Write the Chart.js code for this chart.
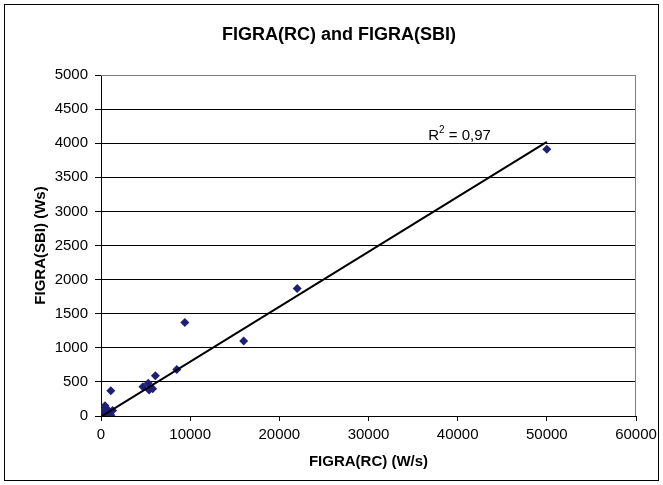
<!DOCTYPE html>
<html>
<head>
<meta charset="utf-8">
<script src="https://cdn.jsdelivr.net/npm/chart.js@4/dist/chart.umd.min.js"></script>
<style>
  html, body { margin: 0; padding: 0; background: #fff; }
  #wrap { width: 663px; height: 485px; }
</style>
</head>
<body>
<div id="wrap"><canvas id="figraChart" width="663" height="485"></canvas></div>
<script>
// ===============================
// Data
// ===============================
const figraRC = [0, 150, 300, 450, 600, 700, 900, 1100, 1300, 1100,
                 4700, 5300, 5400, 5800, 6100, 8500, 9400, 16000, 22000, 50000];
const figraSBI = [0, 40, 90, 150, 110, 30, 70, 10, 80, 370,
                  430, 480, 380, 400, 590, 680, 1370, 1100, 1870, 3910];

// trendline end points and its label
const trendX = [0, 50000];
const trendY = [-10, 4020];
const r2Text = "0,97";

const xTicks = [0, 10000, 20000, 30000, 40000, 50000, 60000];
const yTicks = [0, 500, 1000, 1500, 2000, 2500, 3000, 3500, 4000, 4500, 5000];

const FONT = "'Liberation Sans', Arial, sans-serif";

// ===============================
// Extra drawing: frame, title, plot border, R² label
// ===============================
const decorPlugin = {
    id: "decor",
    beforeDraw(chart) {
        const ctx = chart.ctx;
        ctx.save();
        ctx.fillStyle = "#fff";
        ctx.fillRect(0, 0, chart.width, chart.height);
        ctx.strokeStyle = "#000";
        ctx.lineWidth = 1;
        ctx.strokeRect(4.5, 4.5, 654, 476);
        ctx.fillStyle = "#000";
        ctx.font = "bold 18px " + FONT;
        ctx.textAlign = "center";
        ctx.textBaseline = "middle";
        ctx.fillText("FIGRA(RC) and FIGRA(SBI)", 339, 35);
        ctx.restore();
    },
    beforeDatasetsDraw(chart) {
        const a = chart.chartArea;
        const ctx = chart.ctx;
        ctx.save();
        ctx.strokeStyle = "#808080";
        ctx.lineWidth = 1;
        ctx.beginPath();
        ctx.moveTo(a.left, a.top + 0.5);
        ctx.lineTo(a.right - 0.5, a.top + 0.5);
        ctx.lineTo(a.right - 0.5, a.bottom);
        ctx.stroke();
        ctx.restore();
    },
    afterDraw(chart) {
        const ctx = chart.ctx;
        const x = chart.scales.x.getPixelForValue(36700);
        const y = chart.scales.y.getPixelForValue(4110);
        ctx.save();
        ctx.fillStyle = "#000";
        ctx.textBaseline = "middle";
        ctx.textAlign = "left";
        ctx.font = "15px " + FONT;
        ctx.fillText("R", x, y);
        let w = ctx.measureText("R").width;
        ctx.font = "10px " + FONT;
        ctx.fillText("2", x + w, y - 5);
        w += ctx.measureText("2").width;
        ctx.font = "15px " + FONT;
        ctx.fillText(" = " + r2Text, x + w, y);
        ctx.restore();
    }
};

const points = figraRC.map((v, i) => ({ x: v, y: figraSBI[i] }));
const trend = trendX.map((v, i) => ({ x: v, y: trendY[i] }));

new Chart(document.getElementById("figraChart"), {
    type: "scatter",
    data: {
        datasets: [
            {
                type: "line",
                label: "Trend",
                data: trend,
                borderColor: "#000",
                borderWidth: 2,
                pointRadius: 0,
                fill: false,
                order: 0
            },
            {
                label: "FIGRA",
                data: points,
                pointStyle: "rectRot",
                pointRadius: 4.5,
                backgroundColor: "#1f1f78",
                borderColor: "#1f1f78",
                borderWidth: 0,
                order: 1
            }
        ]
    },
    options: {
        responsive: false,
        devicePixelRatio: 1,
        animation: false,
        layout: { padding: { left: 0, top: 75, right: 27, bottom: 0 } },
        plugins: {
            legend: { display: false },
            title: { display: false },
            tooltip: { enabled: false }
        },
        scales: {
            x: {
                type: "linear",
                min: 0,
                max: 60000,
                afterFit(scale) { scale.height = 69; },
                afterBuildTicks(scale) { scale.ticks = xTicks.map(v => ({ value: v })); },
                border: { color: "#000", width: 1 },
                grid: { drawOnChartArea: false, tickColor: "#000", tickLength: 5 },
                ticks: {
                    color: "#000",
                    padding: 5,
                    maxRotation: 0,
                    font: { family: FONT, size: 15 },
                    callback: v => String(v)
                },
                title: {
                    display: true,
                    text: "FIGRA(RC) (W/s)",
                    color: "#000",
                    font: { family: FONT, size: 15, weight: "bold" },
                    padding: { top: 0, bottom: 14 }
                }
            },
            y: {
                type: "linear",
                min: 0,
                max: 5000,
                afterFit(scale) { scale.width = 101; },
                afterBuildTicks(scale) { scale.ticks = yTicks.map(v => ({ value: v })); },
                border: { color: "#000", width: 1 },
                grid: {
                    color: ctx => (ctx.tick && ctx.tick.value === 5000 ? "#808080" : "#000"),
                    tickColor: "#000",
                    tickLength: 6
                },
                ticks: {
                    color: "#000",
                    padding: 7,
                    font: { family: FONT, size: 15 },
                    callback: v => String(v)
                },
                title: {
                    display: true,
                    text: "FIGRA(SBI) (Ws)",
                    color: "#000",
                    font: { family: FONT, size: 15, weight: "bold" },
                    padding: { top: 32, bottom: 0 }
                }
            }
        }
    },
    plugins: [decorPlugin]
});
</script>
</body>
</html>
